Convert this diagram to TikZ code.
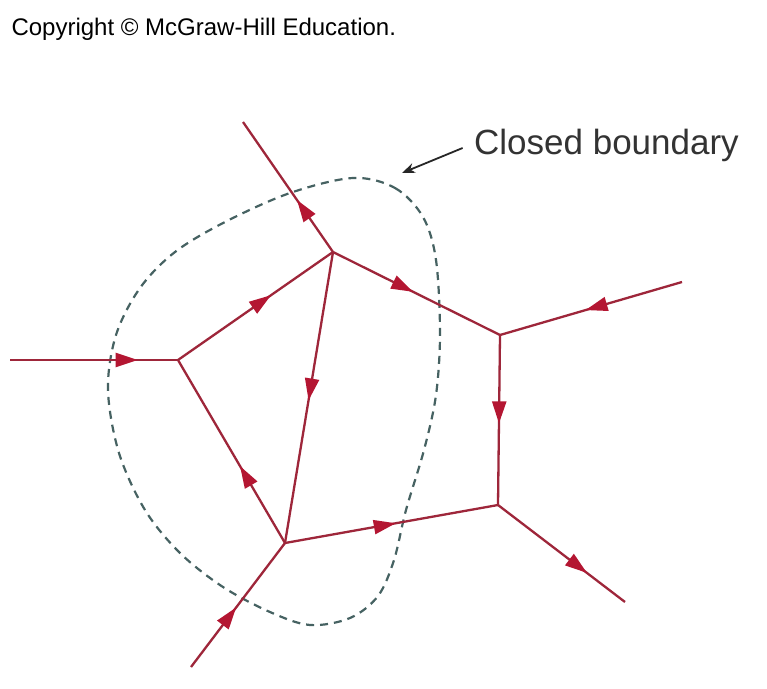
\documentclass[tikz,border=0pt]{standalone}
\usepackage{fontspec}
\setmainfont{Liberation Sans}
\usetikzlibrary{arrows.meta,decorations.markings}
\definecolor{wire}{RGB}{158,38,58}
\definecolor{tipred}{RGB}{180,22,50}
\definecolor{bound}{RGB}{70,98,98}
\tikzset{
  branch/.style={draw=wire,line width=2.3pt},
  flow/.style={branch,postaction={decorate},decoration={markings,
    mark=at position #1 with {\arrow{Triangle[length=22pt,width=14pt,color=tipred]}}}},
  boundary/.style={draw=bound,line width=2.2pt,dash pattern=on 8pt off 6pt}
}
\begin{document}
\begin{tikzpicture}[x=1pt,y=-1pt]
   \useasboundingbox[fill=white] (0,0) rectangle (767,688);
   \node[anchor=base west,font=\fontsize{24}{29}\selectfont] (copy) at (8,35) {Copyright © McGraw-Hill Education.};
   \coordinate (A) at (178,360);
   \coordinate (B) at (333,252);
   \coordinate (C) at (500,335);
   \coordinate (D) at (498,505);
   \coordinate (E) at (285,543);
   \coordinate (inL) at (10,360);
   \coordinate (outT) at (243,122);
   \coordinate (inR) at (682,282);
   \coordinate (outD) at (625,602);
   \coordinate (inB) at (191,667);
   \draw[boundary] plot[smooth cycle,tension=0.55] coordinates {(353,178) (395,188) (423,217) (436,260) (440,333) (436,395) (424,450) (406,510) (394,560) (378,596) (350,618) (310,625) (270,612) (223,587) (180,553) (145,510) (119,453) (108,390) (116,335) (140,288) (175,252) (225,222) (290,193)};
   \draw[flow=0.76] (inL) -- (A);
   \draw[flow=0.6] (A) -- (B);
   \draw[flow=0.4] (B) -- (outT);
   \draw[flow=0.48] (B) -- (C);
   \draw[flow=0.51] (B) -- (E);
   \draw[flow=0.42] (E) -- (A);
   \draw[flow=0.53] (inR) -- (C);
   \draw[flow=0.52] (C) -- (D);
   \draw[flow=0.52] (E) -- (D);
   \draw[flow=0.7] (D) -- (outD);
   \draw[flow=0.48] (inB) -- (E);
   \node[anchor=base west,font=\fontsize{35}{42}\selectfont,text=black!80,inner sep=4pt] (label) at (470,154) {Closed boundary};
   \coordinate (lbltip) at (402,173);
   \draw[-{Stealth[length=13pt,width=10pt]},line width=1.8pt,black!85,shorten <=8pt] (label.west) -- (lbltip);
\end{tikzpicture}
\end{document}
